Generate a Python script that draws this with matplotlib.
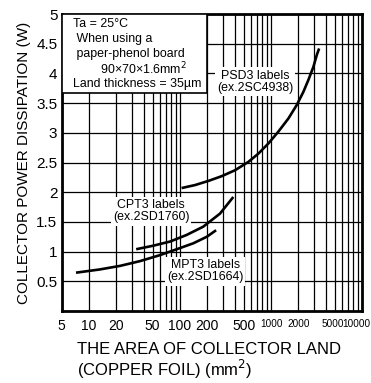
#!/usr/bin/env python3

from matplotlib import pyplot as plt
from matplotlib.patches import Rectangle
import matplotlib.transforms as mtransforms

plt.rcParams['font.family'] = ['Liberation Sans', 'DejaVu Sans']

# collector land area (mm^2) vs. allowable collector power dissipation (W)
psd3_area = [104, 146, 205, 287, 402, 563, 726, 934, 1203, 1549, 1918,
             2265, 2570, 2917, 3178, 3373]
psd3_power = [2.07, 2.12, 2.19, 2.27, 2.37, 2.51, 2.65, 2.82, 3.02, 3.24,
              3.47, 3.69, 3.89, 4.11, 4.31, 4.42]

cpt3_area = [33, 51, 78, 118, 180, 275, 385]
cpt3_power = [1.04, 1.10, 1.17, 1.28, 1.42, 1.64, 1.92]

mpt3_area = [7.2, 13.2, 22, 36.4, 60, 92, 140, 197, 249]
mpt3_power = [0.645, 0.70, 0.76, 0.84, 0.94, 1.04, 1.14, 1.25, 1.36]

x_labels = [5, 10, 20, 50, 100, 200, 500, 1000, 2000, 5000, 10000]
x_minor = [30, 40, 60, 70, 80, 90, 300, 400, 600, 700, 800, 900,
           3000, 4000, 6000, 7000, 8000, 9000]
y_labels = [0.5, 1, 1.5, 2, 2.5, 3, 3.5, 4, 4.5, 5]

note_lines = ['Ta = 25°C', ' When using a', ' paper-phenol board',
              '        90×70×1.6mm$^2$', 'Land thickness = 35µm']

fig = plt.figure(figsize=(3.71, 3.83), dpi=100)
ax = fig.add_axes([0.166, 0.188, 0.810, 0.7754])
ax.set_xscale('log')
ax.set_xlim(5, 10000)
ax.set_ylim(0, 5)

ax.set_xticks(x_labels)
ax.set_xticks(x_minor, minor=True)
ax.set_xticklabels([str(v) for v in x_labels])
ax.set_yticks(y_labels)
ax.set_yticklabels(['%g' % v for v in y_labels])
ax.tick_params(which='both', length=0)
ax.tick_params(axis='x', pad=6, labelsize=10)
ax.tick_params(axis='y', pad=3, labelsize=11)


def nudge(label, px):
	label.set_transform(label.get_transform() + mtransforms.ScaledTranslation(
		px / 100, 0, fig.dpi_scale_trans))


# long labels at the right end are set smaller so they fit side by side
for lab, v in zip(ax.get_xticklabels(), x_labels):
	if v >= 1000:
		lab.set_fontsize(7.2)
	if v == 5000:
		nudge(lab, -1.5)
	if v == 10000:
		lab.set_horizontalalignment('right')
		nudge(lab, 8.5)

ax.grid(True, which='both', color='black', linewidth=0.9)
ax.set_axisbelow(True)
for s in ax.spines.values():
	s.set_linewidth(2)

# conditions box in the top left corner
ax.add_patch(Rectangle((5, 3.67), 195, 1.33, facecolor='white',
                       edgecolor='black', linewidth=1.2, zorder=3))
for i, line in enumerate(note_lines):
	ax.text(0.038, 0.965 - i * 0.0505, line, transform=ax.transAxes,
	        fontsize=8.9, va='center', ha='left', zorder=4)

for xs, ys in [(psd3_area, psd3_power), (cpt3_area, cpt3_power),
               (mpt3_area, mpt3_power)]:
	ax.plot(xs, ys, color='black', linewidth=1.9, zorder=5,
	        solid_capstyle='butt', solid_joinstyle='round')

box = dict(facecolor='white', edgecolor='none', pad=1.5)
ax.text(667, 3.86, 'PSD3 labels\n(ex.2SC4938)', ha='center', va='center',
        fontsize=8.9, linespacing=1.05, bbox=box, zorder=4)
ax.text(48, 1.68, 'CPT3 labels\n(ex.2SD1760)', ha='center', va='center',
        fontsize=8.9, linespacing=1.05, bbox=box, zorder=4)
ax.text(189, 0.67, 'MPT3 labels\n(ex.2SD1664)', ha='center', va='center',
        fontsize=8.9, linespacing=1.05, bbox=box, zorder=4)

ax.set_ylabel('COLLECTOR POWER DISSIPATION (W)', fontsize=11, labelpad=4)
fig.text(77 / 371, 1 - 342 / 383, 'THE AREA OF COLLECTOR LAND\n(COPPER FOIL) (mm$^2$)',
         fontsize=12, ha='left', va='top', linespacing=1.05)

fig.savefig('out.png', dpi=100)
